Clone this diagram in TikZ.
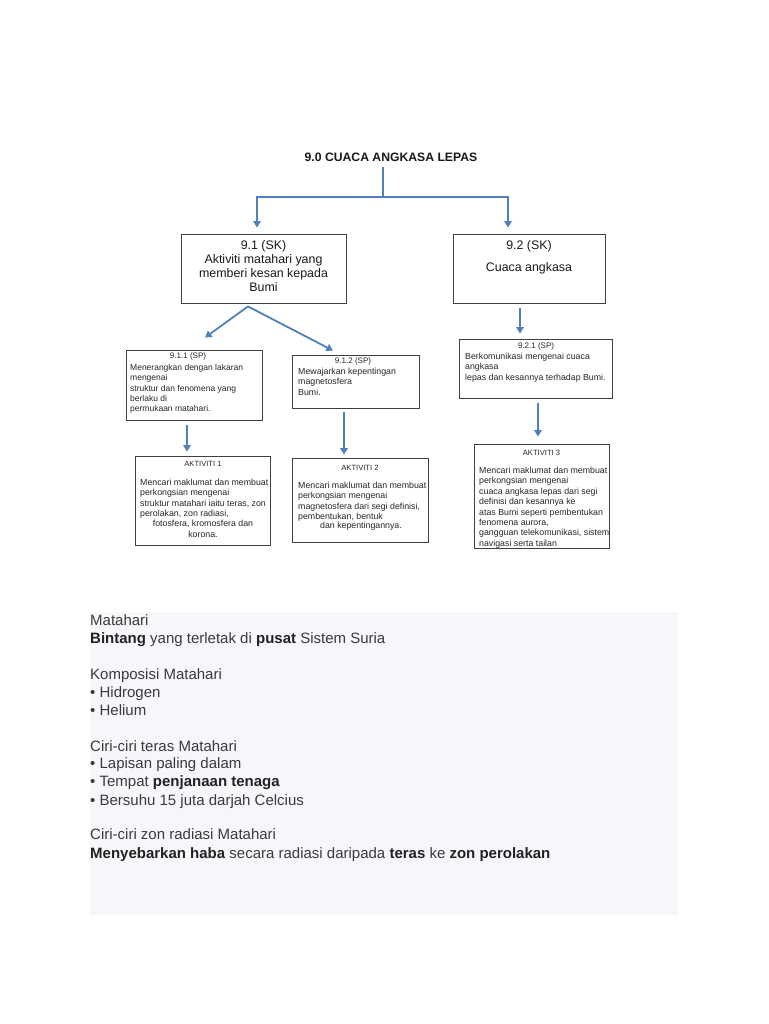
\documentclass[tikz,border=0pt]{standalone}
\usepackage{fontspec}
\setmainfont{Liberation Sans}
\usetikzlibrary{arrows.meta}
\definecolor{arr}{HTML}{4F81BD}
\definecolor{txt}{HTML}{3A3A3A}
\definecolor{txtb}{HTML}{222222}
\definecolor{panel}{HTML}{F5F7FA}
\definecolor{boxc}{HTML}{404040}
\begin{document}
\begin{tikzpicture}[x=1pt,y=-1pt,
  box/.style={draw=boxc, line width=0.9pt, inner sep=0pt},
  conn/.style={draw=arr, line width=1.8pt, -{Triangle[length=6.5pt,width=7.5pt]}},
  plainconn/.style={draw=arr, line width=1.8pt},
  big/.style={font=\fontsize{12.4}{14.2}\selectfont, align=center, inner sep=0pt, text=black!90},
  head/.style={font=\fontsize{8}{10.4}\selectfont, inner sep=0pt, text=black!85},
  ahead/.style={font=\fontsize{7.6}{10}\selectfont, inner sep=0pt, text=black!85},
  body/.style={font=\fontsize{8.8}{10.4}\selectfont, align=left, inner sep=0pt, text=black!85, anchor=north west},
  cbody/.style={font=\fontsize{8.8}{10.6}\selectfont, align=center, inner sep=0pt, text=black!85, anchor=north},
  ptxt/.style={font=\fontsize{15}{17}\selectfont, inner sep=0pt, anchor=base west, text=txt},
]
\useasboundingbox (0,0) rectangle (768,1024);
\fill[white] (0,0) rectangle (768,1024);

% title
\node[font=\bfseries\fontsize{12.2}{14}\selectfont, inner sep=0pt, text=black!90] (title) at (391,157) {9.0 CUACA ANGKASA LEPAS};
\coordinate (t0) at (383,167);
\coordinate (tj) at (383,197);

% level 1 boxes
\node[box, minimum width=165pt, minimum height=69pt] (b91) at (263.5,268.5) {};
\node[big, anchor=north] (b91t) at (263.5,240) {9.1 (SK)\\Aktiviti matahari yang\\memberi kesan kepada\\Bumi};
\node[box, minimum width=152pt, minimum height=69pt] (b92) at (529,268.5) {};
\node[big, anchor=north] (b92t) at (529,240) {9.2 (SK)};
\node[big] (b92u) at (529,268) {Cuaca angkasa};

% level 2 boxes
\node[box, minimum width=136pt, minimum height=70pt] (b911) at (194,385) {};
\node[head] (b911h) at (188,356.5) {9.1.1 (SP)};
\node[body, font=\fontsize{8.5}{10.4}\selectfont] (b911b) at (130,364) {Menerangkan dengan lakaran\\mengenai\\struktur dan fenomena yang\\berlaku di\\permukaan matahari.};

\node[box, minimum width=127pt, minimum height=53pt] (b912) at (355.5,381.5) {};
\node[head] (b912h) at (353,361.5) {9.1.2 (SP)};
\node[body] (b912b) at (298,368) {Mewajarkan kepentingan\\magnetosfera\\Bumi.};

\node[box, minimum width=153pt, minimum height=59pt] (b921) at (535.5,368.5) {};
\node[head] (b921h) at (536,346.5) {9.2.1 (SP)};
\node[body] (b921b) at (465,353) {Berkomunikasi mengenai cuaca\\angkasa\\lepas dan kesannya terhadap Bumi.};

% activity boxes
\node[box, minimum width=135pt, minimum height=89pt] (a1) at (202.5,500.5) {};
\node[ahead] (a1h) at (203,463.5) {AKTIVITI 1};
\node[body] (a1b) at (140,479) {Mencari maklumat dan membuat\\perkongsian mengenai\\struktur matahari iaitu teras, zon\\perolakan, zon radiasi,};
\node[cbody] (a1c) at (203,520) {fotosfera, kromosfera dan\\korona.};

\node[box, minimum width=136pt, minimum height=84pt] (a2) at (360,500) {};
\node[ahead] (a2h) at (360,467.5) {AKTIVITI 2};
\node[body] (a2b) at (298,482) {Mencari maklumat dan membuat\\perkongsian mengenai\\magnetosfera dari segi definisi,\\pembentukan, bentuk};
\node[cbody] (a2c) at (361,522) {dan kepentingannya.};

\node[box, minimum width=135pt, minimum height=104pt] (a3) at (541.5,496) {};
\node[ahead] (a3h) at (541.5,452.5) {AKTIVITI 3};
\node[body] (a3b) at (479,467) {Mencari maklumat dan membuat\\perkongsian mengenai\\cuaca angkasa lepas dari segi\\definisi dan kesannya ke\\atas Bumi seperti pembentukan\\fenomena aurora,\\gangguan telekomunikasi, sistem\\navigasi serta tailan};

% connectors
\draw[plainconn] (t0) -- (tj);
\draw[conn] (tj) -| ([xshift=-6.5pt,yshift=6pt]b91.north);
\draw[conn] (tj) -| ([xshift=-21pt,yshift=6pt]b92.north);
\draw[conn] ([xshift=-15.5pt,yshift=-3pt]b91.south) -- ([xshift=11pt,yshift=12pt]b911.north);
\draw[conn] ([xshift=-15.5pt,yshift=-3pt]b91.south) -- ([xshift=-22.5pt,yshift=4pt]b912.north);
\draw[conn] ([xshift=-9pt,yshift=-5pt]b92.south) -- ([xshift=-15.5pt,yshift=5pt]b921.north);
\draw[conn] ([xshift=-7pt,yshift=-5pt]b911.south) -- ([xshift=-15.5pt,yshift=4pt]a1.north);
\draw[conn] ([xshift=-11.5pt,yshift=-4pt]b912.south) -- ([xshift=-16pt,yshift=3pt]a2.north);
\draw[conn] ([xshift=2.5pt,yshift=-5pt]b921.south) -- ([xshift=-3.5pt,yshift=7pt]a3.north);

% lower panel
\node[fill=panel, draw=none, minimum width=588pt, minimum height=303pt, inner sep=0pt] (panel) at (384,763.5) {};
\node[ptxt] (p1) at (90,625) {Matahari};
\node[ptxt] (p2) at (90,643) {\textcolor{txtb}{\bfseries Bintang} yang terletak di \textcolor{txtb}{\bfseries pusat} Sistem Suria};
\node[ptxt] (p3) at (90,679) {Komposisi Matahari};
\node[ptxt] (p4) at (90,697) {• Hidrogen};
\node[ptxt] (p5) at (90,715) {• Helium};
\node[ptxt] (p6) at (90,751) {Ciri-ciri teras Matahari};
\node[ptxt] (p7) at (90,768) {• Lapisan paling dalam};
\node[ptxt] (p8) at (90,786) {• Tempat \textcolor{txtb}{\bfseries penjanaan tenaga}};
\node[ptxt] (p9) at (90,805) {• Bersuhu 15 juta darjah Celcius};
\node[ptxt] (p10) at (90,839) {Ciri-ciri zon radiasi Matahari};
\node[ptxt] (p11) at (90,858) {\textcolor{txtb}{\bfseries Menyebarkan haba} secara radiasi daripada \textcolor{txtb}{\bfseries teras} ke \textcolor{txtb}{\bfseries zon perolakan}};
\end{tikzpicture}
\end{document}
